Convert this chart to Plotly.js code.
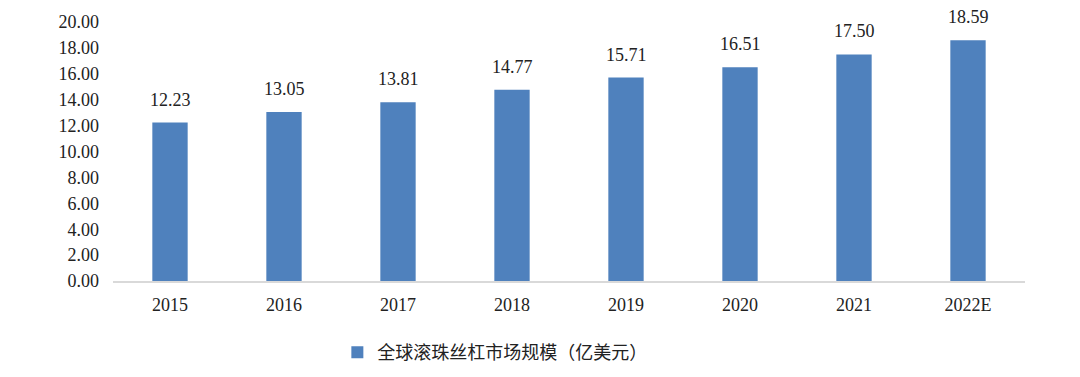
<!DOCTYPE html>
<html><head><meta charset="utf-8">
<script src="https://cdn.plot.ly/plotly-3.0.1.min.js"></script>
<style>body{margin:0;background:#fff}</style>
</head><body>
<div id="chart" style="width:1080px;height:377px"></div>
<script>
const categories = ["2015","2016","2017","2018","2019","2020","2021","2022E"];
const values = [12.23,13.05,13.81,14.77,15.71,16.51,17.50,18.59];
const seriesName = "全球滚珠丝杠市场规模（亿美元）";

const trace = {
  type: "bar", x: categories, y: values, name: seriesName,
  marker: {color: "#4F81BD"}, width: 0.31, showlegend: true, hoverinfo: "none"
};
const annotations = categories.map((c, i) => ({
  x: i, y: values[i], xref: "x", yref: "y", text: values[i].toFixed(2),
  showarrow: false, yanchor: "bottom", yshift: 11,
  font: {family: "Liberation Serif, Times New Roman, serif", size: 18, color: "#222"}
}));
const layout = {
  width: 1080, height: 377,
  margin: {l: 113, r: 55, t: 22, b: 96},
  paper_bgcolor: "#fff", plot_bgcolor: "#fff",
  font: {family: "Liberation Serif, Times New Roman, serif", size: 18, color: "#222"},
  xaxis: {type: "category", range: [-0.5, categories.length - 0.5], autorange: false,
          showline: true, linecolor: "#D9D9D9", linewidth: 1.5,
          ticks: "", showgrid: false, ticklabelstandoff: 7, tickfont: {size: 18}},
  yaxis: {range: [0, 20], autorange: false, dtick: 2, tickformat: ".2f", showgrid: false, zeroline: false,
          showline: false, ticks: "", ticklabelstandoff: 13, tickfont: {size: 18}},
  showlegend: true,
  legend: {orientation: "h", x: 0.246, xanchor: "left", yref: "container", y: 0.114, yanchor: "top",
           font: {family: "Noto Sans CJK SC, sans-serif", size: 18, color: "#222"},
           itemwidth: 30},
  annotations: annotations
};
Plotly.newPlot("chart", [trace], layout, {displayModeBar: false, staticPlot: true});
</script>
</body></html>
